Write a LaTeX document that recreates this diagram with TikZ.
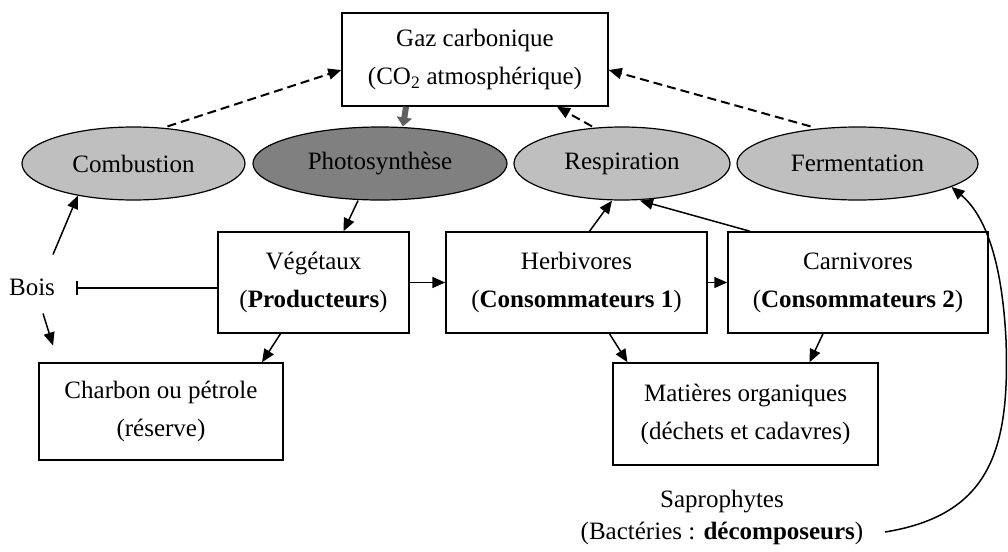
\documentclass[tikz,border=0pt]{standalone}
\usepackage{fontspec}
\setmainfont{Liberation Serif}
\usetikzlibrary{arrows.meta,positioning,shapes.geometric,calc}

\tikzset{
 box/.style={draw,line width=1.5pt,fill=white,align=center,inner sep=2pt},
 proc/.style={draw,ellipse,line width=1.2pt,fill=gray!50,inner sep=0pt,minimum height=73pt},
 lab/.style={align=center},
 co2flow/.style={->,line width=2pt,dash pattern=on 9pt off 5pt},
}

\begin{document}
\begin{tikzpicture}[x=1pt,y=-1pt,>={Triangle[length=13pt,width=11pt]},line width=1.5pt,
  every node/.style={font=\fontsize{25}{38}\selectfont}]
\useasboundingbox (0,0) rectangle (1008,551);
% reservoir of CO2
\node[box,minimum width=266pt,minimum height=93pt] (gaz) at (475,59.5)
 {Gaz carbonique\\(CO\textsubscript{2} atmosphérique)};
% the four processes
\foreach \nm/\x/\w/\txt in {comb/133.5/223/Combustion,resp/622/216/Respiration,ferm/857.5/241/Fermentation}
 {\node[proc,minimum width=\w pt] (\nm) at (\x,163.5) {\txt};}
\node[proc,fill=gray,minimum width=254pt] (photo) at (380,163.5) {Photosynthèse};
% living things
\node[box,minimum width=191pt,minimum height=101pt] (veg) at (313.5,282.5) {Végétaux\\(\textbf{Producteurs})};
\node[box,minimum width=261pt,minimum height=101pt] (herb) at (576.5,282.5) {Herbivores\\(\textbf{Consommateurs 1})};
\node[box,minimum width=260pt,minimum height=101pt] (carn) at (858,282.5) {Carnivores\\(\textbf{Consommateurs 2})};
\node[box,minimum width=244pt,minimum height=97pt] (charbon) at (161,411.5) {Charbon ou pétrole\\(réserve)};
\node[box,minimum width=265pt,minimum height=102pt] (mat) at (745.5,414) {Matières organiques\\(déchets et cadavres)};
\node (bois) at (32,287) {Bois};
\node[lab] (sapro) at (722,517) {Saprophytes\\[-6pt](Bactéries : \textbf{décomposeurs})};
\coordinate (sapend) at (885,532);

% CO2 back to the air
\draw[co2flow] ([xshift=34pt]comb.north) -- ([yshift=-10.5pt]gaz.west);
\draw[co2flow] ([xshift=-30pt]resp.north) -- ([xshift=82pt]gaz.south);
\draw[co2flow] ([xshift=-47pt]ferm.north) -- ([yshift=-10.5pt]gaz.east);
\draw[line width=6pt,draw=gray!75!black,-{Triangle[length=9pt,width=15pt]}]
 ([xshift=-69pt]gaz.south) -- ([xshift=23pt]photo.north);

% food chain
\draw[->] ([xshift=-22pt]photo.south) -- ([xshift=30pt]veg.north);
\draw[->] (veg) -- (herb);
\draw[->] (herb) -- (carn);
\draw[->] ([xshift=-33pt]veg.south) -- ([xshift=101pt]charbon.north);
\draw[->] ([xshift=13pt]herb.north) -- ([xshift=-10pt]resp.south);
\draw[->] ([xshift=-108pt]carn.north) -- ([xshift=18pt]resp.south);
\draw[->] ([xshift=33pt]herb.south) -- ([xshift=-118pt]mat.north);
\draw[->] ([xshift=-35pt]carn.south) -- ([xshift=64pt]mat.north);

% wood
\draw[-{Bar[width=14pt]}] ([yshift=-5.5pt]veg.west) -- ++(-141,0);
\draw[->] ($(bois.north)+(21,-20)$) -- (comb.210);
\draw[->] ($(bois.south)+(11,14)$) -- ++(10,32);

% decomposers
\draw[->] (sapend) .. controls (990,515) and (1010,450) .. (1006,340)
 .. controls (1002,260) and (985,215) .. (ferm.-14);
\end{tikzpicture}
\end{document}
